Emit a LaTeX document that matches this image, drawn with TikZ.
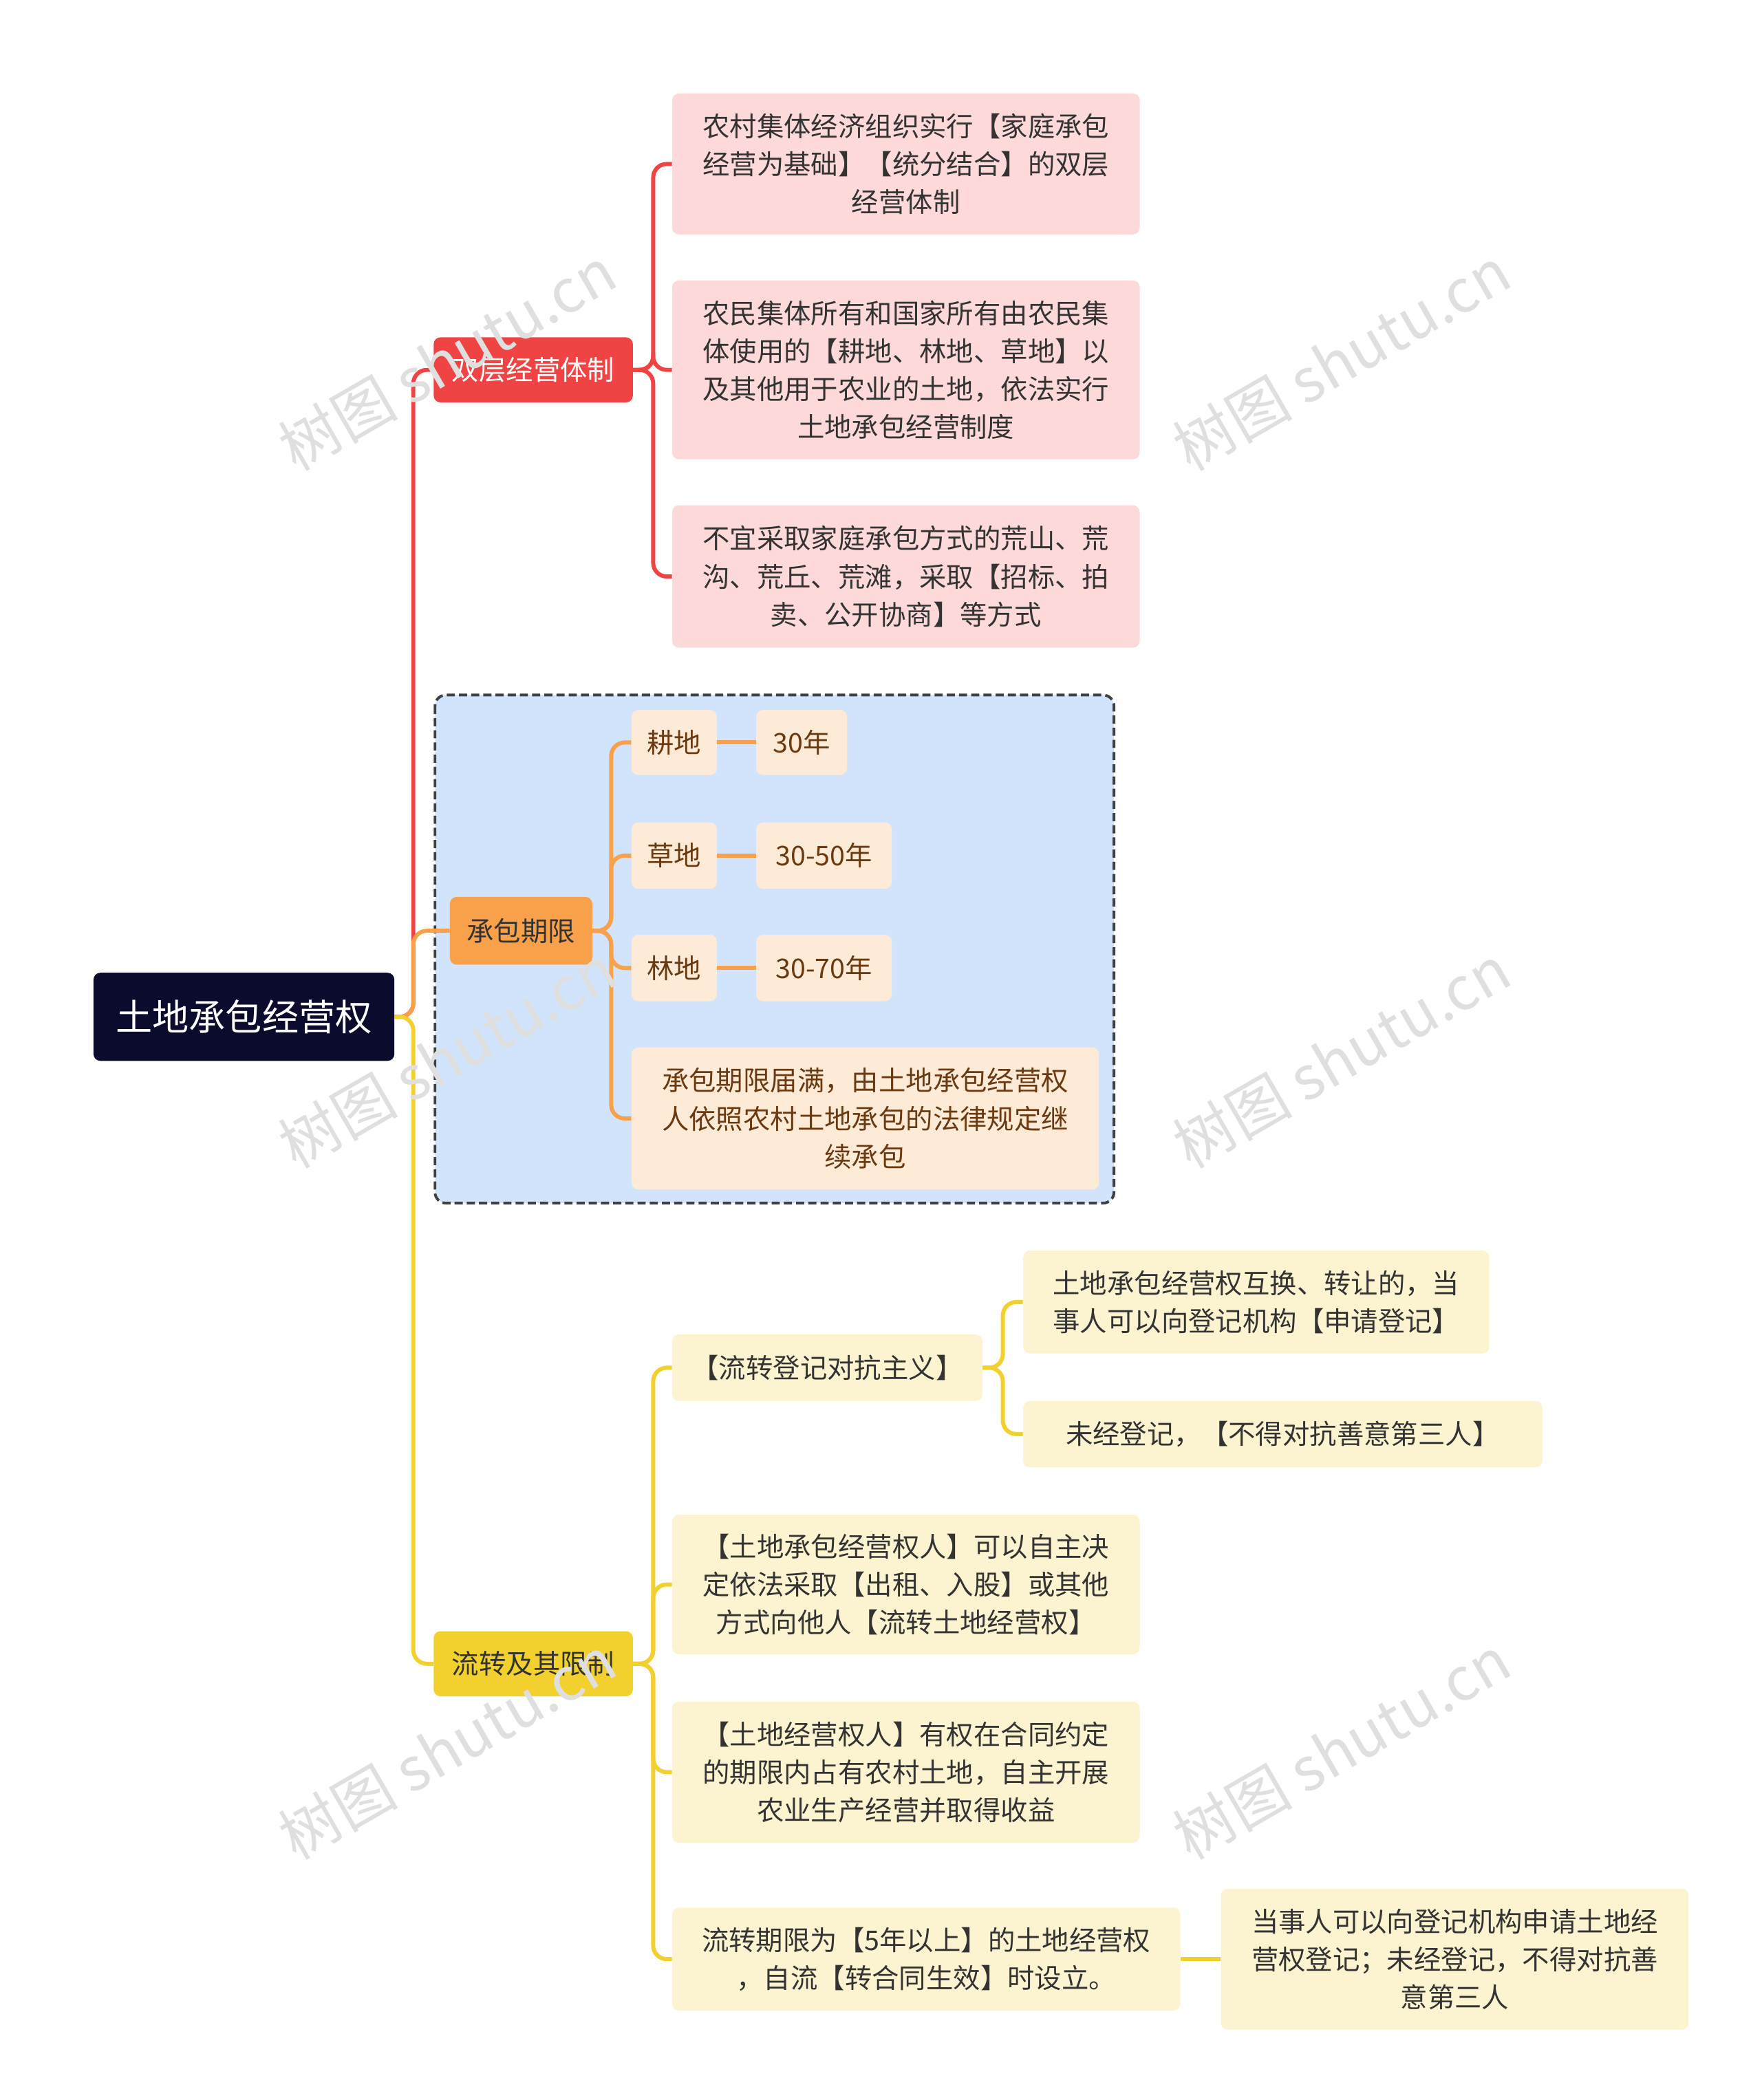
\documentclass[tikz,border=0pt]{standalone}
\usepackage{fontspec}
\setmainfont{Noto Sans CJK SC}
\usetikzlibrary{calc}
\definecolor{navy}{HTML}{0B0B2E}
\definecolor{redc}{HTML}{F04444}
\definecolor{redl}{HTML}{FDD9D9}
\definecolor{orc}{HTML}{F8A04A}
\definecolor{orl}{HTML}{FDEBD8}
\definecolor{yec}{HTML}{F2D02E}
\definecolor{yel}{HTML}{FCF4D0}
\definecolor{bluel}{HTML}{D2E3FC}
\definecolor{txt}{HTML}{333333}
\definecolor{brown}{HTML}{6B3A10}
\tikzset{
 box/.style={rounded corners=5pt,inner sep=0pt,align=center,font=\fontsize{20}{28}\selectfont,text=txt},
 rb/.style={box,fill=redl},
 ob/.style={box,fill=orl,text=brown},
 yb/.style={box,fill=yel},
 ln/.style={line width=3pt,rounded corners=10pt},
 wm/.style={rotate=30,text=gray!25,font=\fontsize{44}{44}\selectfont},
}
\newcommand{\bx}[6]{\node[#1,minimum width=#4-#2,minimum height=#5-#3] (#6) at ({(#2+#4)/2},{(#3+#5)/2})}
\begin{document}
\begin{tikzpicture}[x=1pt,y=-1pt]
\useasboundingbox[fill=white] (0,0) rectangle (1300,1550);
% container
\draw[dash pattern=on 6pt off 3pt,line width=2pt,fill=bluel,rounded corners=8pt,draw=black!75] (321,513) rectangle (822,888);
% root & branches
\bx{box,fill=navy,text=white,font=\fontsize{27}{32}\selectfont}{69}{718}{291}{783}{root}{土地承包经营权};
\bx{box,fill=redc,text=white}{320}{249}{467}{297}{b1}{双层经营体制};
\bx{box,fill=orc,text=txt}{332}{662}{437}{712}{b2}{承包期限};
\bx{box,fill=yec,text=txt}{320}{1204}{467}{1252}{b3}{流转及其限制};
% red children
\bx{rb}{496}{69}{841}{173}{r1}{农村集体经济组织实行【家庭承包\\经营为基础】【统分结合】的双层\\经营体制};
\bx{rb}{496}{207}{841}{339}{r2}{农民集体所有和国家所有由农民集\\体使用的【耕地、林地、草地】以\\及其他用于农业的土地，依法实行\\土地承包经营制度};
\bx{rb}{496}{373}{841}{478}{r3}{不宜采取家庭承包方式的荒山、荒\\沟、荒丘、荒滩，采取【招标、拍\\卖、公开协商】等方式};
% orange children
\bx{ob}{466}{524}{529}{572}{o1}{耕地};
\bx{ob}{558}{524}{625}{572}{o1a}{30年};
\bx{ob}{466}{607}{529}{656}{o2}{草地};
\bx{ob}{558}{607}{658}{656}{o2a}{30-50年};
\bx{ob}{466}{690}{529}{739}{o3}{林地};
\bx{ob}{558}{690}{658}{739}{o3a}{30-70年};
\bx{ob}{466}{773}{811}{878}{o4}{承包期限届满，由土地承包经营权\\人依照农村土地承包的法律规定继\\续承包};
% yellow children
\bx{yb}{496}{985}{725}{1034}{y1}{【流转登记对抗主义】};
\bx{yb}{755}{923}{1099}{999}{y1a}{土地承包经营权互换、转让的，当\\事人可以向登记机构【申请登记】};
\bx{yb}{755}{1034}{1138}{1083}{y1b}{未经登记，【不得对抗善意第三人】};
\bx{yb}{496}{1118}{841}{1221}{y2}{【土地承包经营权人】可以自主决\\定依法采取【出租、入股】或其他\\方式向他人【流转土地经营权】};
\bx{yb}{496}{1256}{841}{1360}{y3}{【土地经营权人】有权在合同约定\\的期限内占有农村土地，自主开展\\农业生产经营并取得收益};
\bx{yb}{496}{1408}{871}{1484}{y4}{流转期限为【5年以上】的土地经营权\\，自流【转合同生效】时设立。};
\bx{yb}{901}{1394}{1246}{1498}{y4a}{当事人可以向登记机构申请土地经\\营权登记；未经登记，不得对抗善\\意第三人};
% connectors
\draw[ln,redc] (root.east) -- (305,750.5) |- (b1.west);
\draw[ln,orc] (root.east) -- (305,750.5) |- (b2.west);
\draw[ln,yec] (root.east) -- (305,750.5) |- (b3.west);
\foreach \c in {r1,r2,r3}{\draw[ln,redc] (b1.east) -- (482,273) |- (\c.west);}
\foreach \c in {o1,o2,o3,o4}{\draw[ln,orc] (b2.east) -- (451,687) |- (\c.west);}
\draw[ln,orc] (o1.east) -- (o1a.west);
\draw[ln,orc] (o2.east) -- (o2a.west);
\draw[ln,orc] (o3.east) -- (o3a.west);
\foreach \c in {y1,y2,y3,y4}{\draw[ln,yec] (b3.east) -- (482,1228) |- (\c.west);}
\foreach \c in {y1a,y1b}{\draw[ln,yec] (y1.east) -- (740,1009.5) |- (\c.west);}
\draw[ln,yec] (y4.east) -- (y4a.west);
% watermarks
\foreach \p in {(330,265),(990,265),(330,780),(990,780),(330,1290),(990,1290)}{\node[wm] at \p {树图 shutu.cn};}
\end{tikzpicture}
\end{document}
